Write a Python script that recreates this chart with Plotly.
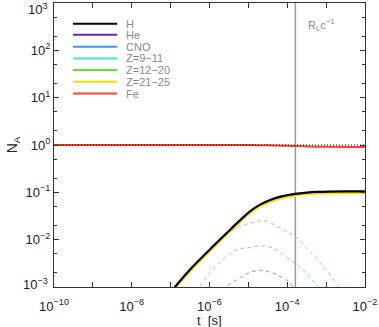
import plotly.graph_objects as go

# ---- data ----
t_H = [1.0e-7, 1.29e-7, 3.16e-7, 1.02e-6, 3.39e-6, 1.10e-5, 2.0e-5, 3.63e-5, 7.6e-5, 1.58e-4, 3.16e-4, 5.75e-4, 3.16e-3, 1.0e-2]
N_H = [7.9e-4, 1.0e-3, 2.34e-3, 6.2e-3, 1.62e-2, 3.98e-2, 5.5e-2, 6.9e-2, 8.3e-2, 9.3e-2, 0.099, 0.102, 0.105, 0.105]
N_Z2125 = [7.3e-4, 0.93e-3, 2.17e-3, 5.8e-3, 1.51e-2, 3.7e-2, 5.1e-2, 6.4e-2, 7.7e-2, 8.6e-2, 0.092, 0.095, 0.097, 0.097]

t_Fe = [1e-10, 1e-5, 3e-5, 1e-4, 1.6e-4, 1e-3, 1e-2]
N_Fe = [1.0, 0.995, 0.985, 0.96, 0.95, 0.915, 0.91]

t_ref = [1e-10, 1e-2]
N_ref = [1.0, 1.0]

t_red_d = [1.12e-7, 3.16e-7, 7.6e-7, 1.38e-6, 2.75e-6, 6.0e-6, 1.10e-5, 2.0e-5, 2.95e-5, 7.9e-5, 1.58e-4, 3.9e-4, 8.5e-4, 2.04e-3, 2.5e-3]
N_red_d = [8.3e-4, 2.09e-3, 5.0e-3, 8.5e-3, 1.26e-2, 1.9e-2, 2.24e-2, 2.5e-2, 2.45e-2, 1.62e-2, 1.17e-2, 5.6e-3, 2.7e-3, 1.05e-3, 8.3e-4]

t_blue_d = [4.5e-7, 5.5e-7, 1.02e-6, 2.29e-6, 5.0e-6, 1.10e-5, 2.19e-5, 4.37e-5, 1.29e-4, 2.57e-4, 6.3e-4, 7.9e-4]
N_blue_d = [7.9e-4, 1.0e-3, 2.0e-3, 3.9e-3, 6.2e-3, 6.8e-3, 7.4e-3, 6.6e-3, 3.6e-3, 2.3e-3, 1.0e-3, 7.9e-4]

t_pur_d = [2.24e-6, 2.63e-6, 5.0e-6, 1.10e-5, 2.0e-5, 2.4e-5, 5.4e-5, 1.07e-4, 1.41e-4, 1.58e-4]
N_pur_d = [8.3e-4, 1.0e-3, 1.41e-3, 2.04e-3, 2.24e-3, 2.24e-3, 1.82e-3, 1.32e-3, 1.0e-3, 8.7e-4]

t_RL = [1.62e-4, 1.62e-4]
N_RL = [1e-3, 1e3]

legend_names = ["H", "He", "CNO", "Z=9\u221211", "Z=12\u221220", "Z=21\u221225", "Fe"]
legend_colors = ["#000000", "#5a28c8", "#3c96f5", "#3cf0b4", "#5ae632", "#ffdc00", "#ff4628"]

x_tickvals = [1e-10, 1e-9, 1e-8, 1e-7, 1e-6, 1e-5, 1e-4, 1e-3, 1e-2]
x_ticktext = ["10<sup>\u221210</sup>", " ", "10<sup>\u22128</sup>", " ", "10<sup>\u22126</sup>", " ",
              "10<sup>\u22124</sup>", " ", "10<sup>\u22122</sup>"]
y_tickvals = [1e-3, 1e-2, 1e-1, 1e0, 1e1, 1e2, 1e3]
y_ticktext = [" ", "10<sup>\u22122</sup>", "10<sup>\u22121</sup>", "10<sup>0</sup>",
              "10<sup>1</sup>", "10<sup>2</sup>", " "]
y_end_labels = ["10<sup>3</sup>", "10<sup>\u22123</sup>"]

fig = go.Figure()

# vertical R_L/c line
fig.add_trace(go.Scatter(x=t_RL, y=N_RL, mode="lines", line=dict(color="#9a9a9a", width=1.5), showlegend=False))

# dashed curves
fig.add_trace(go.Scatter(x=t_pur_d, y=N_pur_d, mode="lines", line=dict(color="#a88ae8", width=1, dash="4px,3px", shape="spline"), showlegend=False))
fig.add_trace(go.Scatter(x=t_blue_d, y=N_blue_d, mode="lines", line=dict(color="#8cc0fa", width=1, dash="4px,3px", shape="spline"), showlegend=False))
fig.add_trace(go.Scatter(x=t_red_d, y=N_red_d, mode="lines", line=dict(color="#ffa096", width=1, dash="4px,3px", shape="spline"), showlegend=False))

# Fe and reference
fig.add_trace(go.Scatter(x=t_Fe, y=N_Fe, mode="lines", line=dict(color="#ff3c28", width=2, shape="spline"), showlegend=False))
fig.add_trace(go.Scatter(x=t_ref, y=N_ref, mode="lines", line=dict(color="#000000", width=1, dash="1px,2px"), showlegend=False))

# rising curves
fig.add_trace(go.Scatter(x=t_H, y=N_Z2125, mode="lines", line=dict(color="#ffdc00", width=2.5, shape="spline"), showlegend=False))
fig.add_trace(go.Scatter(x=t_H, y=N_H, mode="lines", line=dict(color="#000000", width=2.2, shape="spline"), showlegend=False))

# custom legend
shapes = []
annotations = []
row_y = [0.927, 0.888, 0.846, 0.805, 0.764, 0.723, 0.681]
for name, col, yy in zip(legend_names, legend_colors, row_y):
    shapes.append(dict(type="line", xref="paper", yref="paper", x0=0.061, x1=0.203, y0=yy, y1=yy,
                       line=dict(color=col, width=2)))
    annotations.append(dict(xref="paper", yref="paper", x=0.225, y=yy, text=name, showarrow=False,
                            xanchor="left", yanchor="middle", font=dict(size=11, color="#8a8a8a")))

annotations.append(dict(x=-3.11, y=2.54, xref="x", yref="y", text="R<sub>L</sub>c<sup>\u22121</sup>",
                        showarrow=False, font=dict(size=11, color="#8a8a8a")))
annotations.append(dict(xref="paper", yref="paper", x=0.5, y=-0.085, yanchor="top", text="t  [s]",
                        showarrow=False, font=dict(size=13, color="#222222")))
# end labels of the y axis, nudged inside the figure as in the reference
annotations.append(dict(xref="paper", yref="paper", x=-0.012, y=1.0, xanchor="right", yanchor="top",
                        yshift=4, text=y_end_labels[0], showarrow=False, font=dict(size=13, color="#222222")))
annotations.append(dict(xref="paper", yref="paper", x=-0.012, y=0.0, xanchor="right", yanchor="bottom",
                        yshift=-7, text=y_end_labels[1], showarrow=False, font=dict(size=13, color="#222222")))

axis_common = dict(showline=True, linecolor="#333333", linewidth=1.3, mirror="ticks", ticks="inside",
                   tickcolor="#333333", showgrid=False, zeroline=False, automargin=False,
                   ticklabeloverflow="allow",
                   tickfont=dict(size=13, color="#222222"))

fig.update_layout(
    width=379, height=327,
    margin=dict(l=54, r=14, t=3, b=40),
    paper_bgcolor="white", plot_bgcolor="white",
    font=dict(family="Liberation Sans, Arial, sans-serif"),
    showlegend=False,
    shapes=shapes, annotations=annotations,
    xaxis=dict(type="log", range=[-10.0001, -1.9999], tickvals=x_tickvals, ticktext=x_ticktext, ticklen=5,
               ticklabelstandoff=7, **axis_common),
    yaxis=dict(type="log", range=[-3.0001, 3.0001], tickvals=y_tickvals, ticktext=y_ticktext, ticklen=5,
               minor=dict(ticks="inside", ticklen=3, tickcolor="#333333", showgrid=False),
               title=dict(text="N<sub>A</sub>", font=dict(size=14, color="#222222"), standoff=4), **axis_common),
)

fig.write_html("out.html", config={"displayModeBar": False},
               post_script="document.body.style.margin='0';document.body.style.overflow='hidden';")
